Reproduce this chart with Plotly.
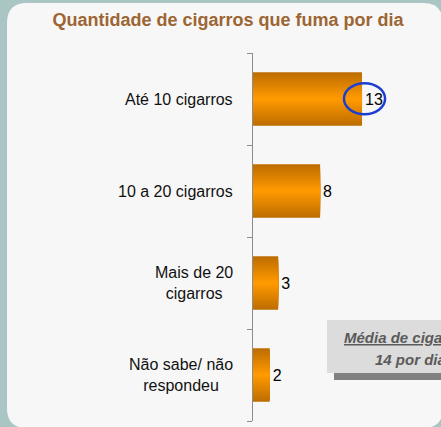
import numpy as np
import plotly.graph_objects as go

# ---- data ----
categories = ["Até 10 cigarros", "10 a 20 cigarros", "Mais de 20<br>cigarros", "Não sabe/ não<br>respondeu"]
values = [13, 8, 3, 2]
title_text = "Quantidade de cigarros que fuma por dia"
average_lines = ["Média de cigarros:", "14 por dia"]
highlight_value = 13

# ---- layout geometry (pixels) ----
W, H = 441, 427
L, R, T, B = 253, 0, 53, 6
PW, PH = W - L - R, H - T - B
PX_PER_UNIT = 8.385
BAR_W = 0.58
FONT = "Liberation Sans, Arial, sans-serif"


def px(x):
    return (x - L) / PW


def py(y):
    return (H - B - y) / PH


ypos = list(range(len(categories)))

fig = go.Figure()

# gradient bars (dark edges, bright centre) built from overlaid layers
dark = np.array([190, 110, 0])
bright = np.array([255, 153, 0])
N = 16
for i in range(N):
    t = i / (N - 1)
    c = dark + (bright - dark) * t
    w = BAR_W * (1 - i / N)
    fig.add_trace(go.Bar(
        x=values, y=ypos, orientation="h", width=w,
        marker=dict(color=f"rgb({int(c[0])},{int(c[1])},{int(c[2])})", line=dict(width=0)),
        text=[str(v) for v in values] if i == 0 else None,
        textposition="outside" if i == 0 else "none",
        textfont=dict(family=FONT, size=16, color="#000000"),
        constraintext="none", cliponaxis=False,
        hoverinfo="skip", showlegend=False,
    ))

shapes = []
# rounded panel
x0, x1, y0, y1, r = 7, 443, 3, 428, 20
path = (f"M {px(x0 + r)} {py(y0)} L {px(x1 - r)} {py(y0)} "
        f"Q {px(x1)} {py(y0)} {px(x1)} {py(y0 + r)} "
        f"L {px(x1)} {py(y1 - r)} Q {px(x1)} {py(y1)} {px(x1 - r)} {py(y1)} "
        f"L {px(x0 + r)} {py(y1)} Q {px(x0)} {py(y1)} {px(x0)} {py(y1 - r)} "
        f"L {px(x0)} {py(y0 + r)} Q {px(x0)} {py(y0)} {px(x0 + r)} {py(y0)} Z")
shapes.append(dict(type="path", path=path, xref="paper", yref="paper",
                   fillcolor="#f7f7f7", line=dict(width=0), layer="below"))
# average box with shadow
shapes.append(dict(type="rect", xref="paper", yref="paper",
                   x0=px(334), x1=px(500), y0=py(327), y1=py(380),
                   fillcolor="#808080", line=dict(width=0), layer="below"))
shapes.append(dict(type="rect", xref="paper", yref="paper",
                   x0=px(327), x1=px(493), y0=py(320), y1=py(373),
                   fillcolor="#dcdcdc", line=dict(width=0), layer="below"))
# blue ellipse highlighting the top value
shapes.append(dict(type="circle", xref="x", yref="y",
                   x0=highlight_value - 2.15, x1=highlight_value + 2.75,
                   y0=-0.17, y1=0.165,
                   line=dict(color="#1c3fcf", width=2.5), fillcolor="rgba(0,0,0,0)",
                   layer="above"))

annotations = []
for yp, lab in zip(ypos, categories):
    annotations.append(dict(x=0, y=yp, xref="paper", yref="y", text=lab,
                            xanchor="right", yanchor="middle", xshift=-18,
                            align="center", showarrow=False,
                            font=dict(family=FONT, size=16, color="#111111")))

annotations.append(dict(x=px(410), y=py(337), xref="paper", yref="paper",
                        text=f"<b><i><u>{average_lines[0]}</u></i></b>",
                        xanchor="center", yanchor="middle", showarrow=False,
                        font=dict(family=FONT, size=15, color="#5a5a5a")))
annotations.append(dict(x=px(410), y=py(359), xref="paper", yref="paper",
                        text=f"<b><i>{average_lines[1]}</i></b>",
                        xanchor="center", yanchor="middle", showarrow=False,
                        font=dict(family=FONT, size=15, color="#5a5a5a")))

fig.update_layout(
    width=W, height=H,
    margin=dict(l=L, r=R, t=T, b=B, pad=0),
    paper_bgcolor="#a9c6c5",
    plot_bgcolor="rgba(0,0,0,0)",
    barmode="overlay",
    title=dict(text=f"<b>{title_text}</b>", x=228 / W, y=1 - 20 / H,
               xanchor="center", yanchor="middle", xref="container", yref="container",
               font=dict(family=FONT, size=18, color="#9c6533")),
    xaxis=dict(visible=False, range=[0, PW / PX_PER_UNIT], fixedrange=True),
    yaxis=dict(range=[len(categories) - 0.5, -0.5],
               tickmode="array", tickvals=[i - 0.5 for i in range(len(categories) + 1)],
               ticktext=[""] * (len(categories) + 1),
               ticks="outside", ticklen=5, tickcolor="#8c8c8c",
               showline=True, linecolor="#8c8c8c", linewidth=1,
               showgrid=False, zeroline=False, fixedrange=True),
    shapes=shapes,
    annotations=annotations,
    showlegend=False,
)

fig.write_html("out.html")
